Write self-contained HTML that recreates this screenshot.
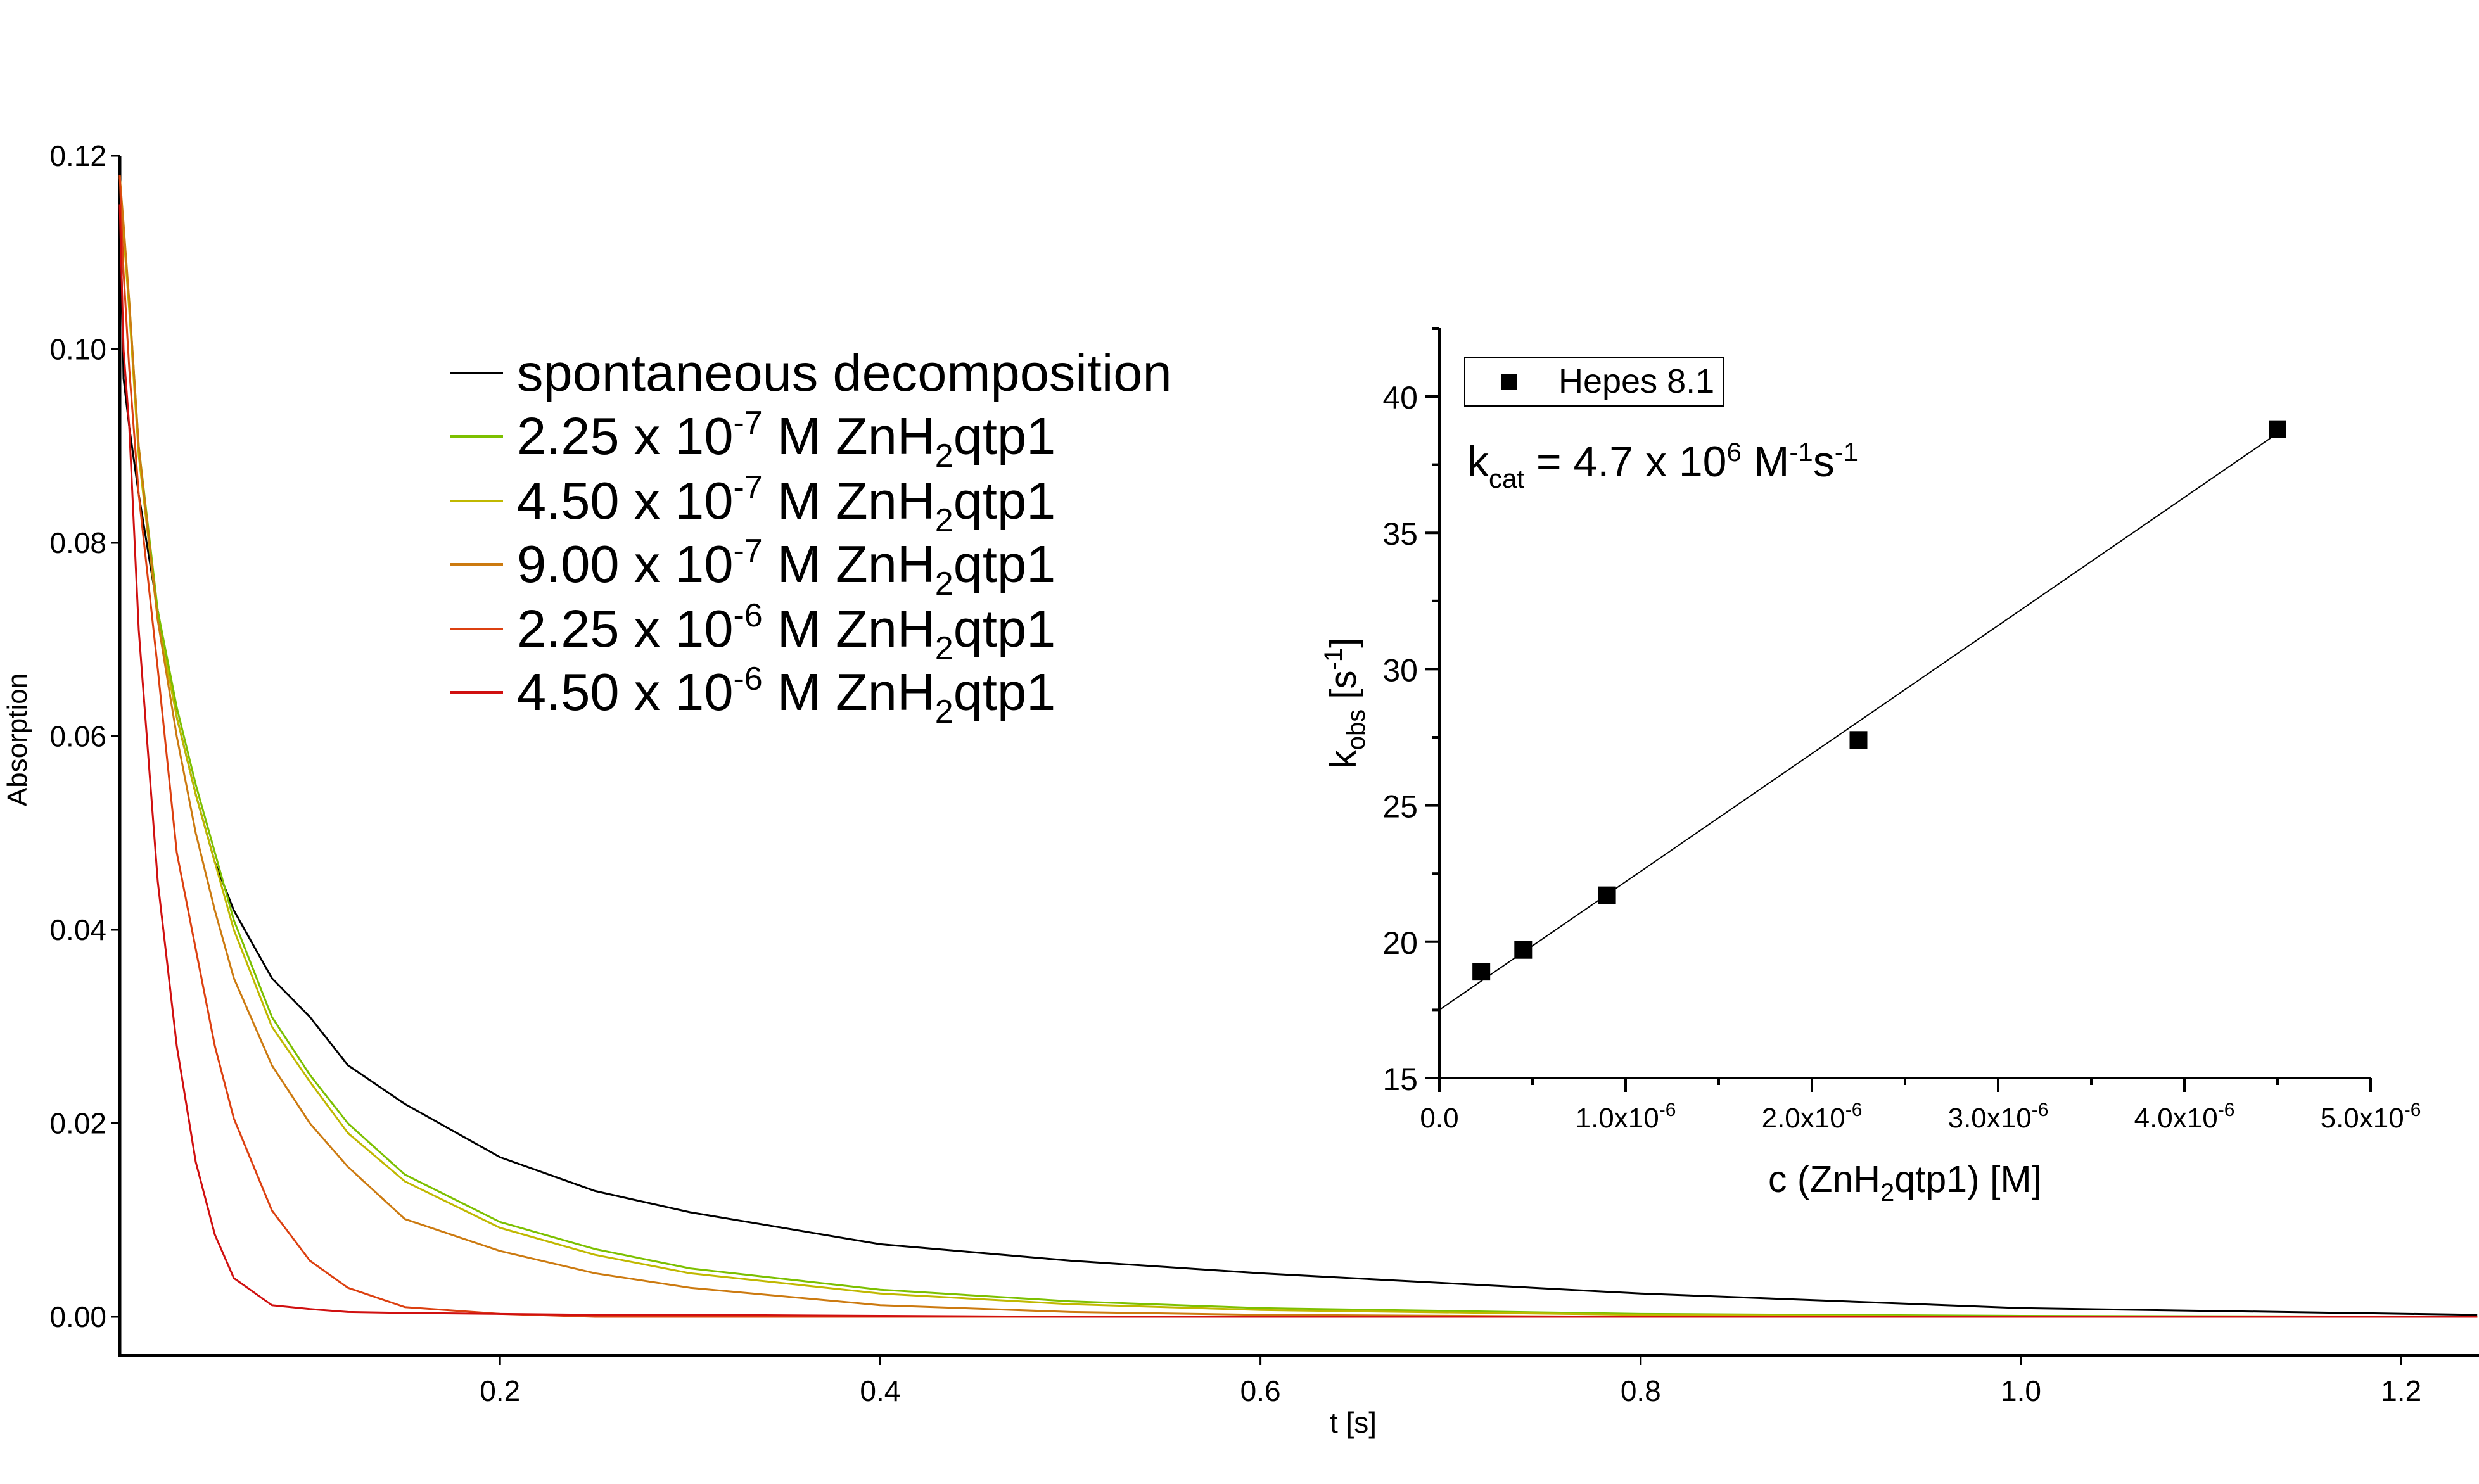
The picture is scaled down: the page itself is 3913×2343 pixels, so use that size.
<!DOCTYPE html>
<html><head><meta charset="utf-8"><style>
html,body{margin:0;padding:0;background:#fff}
svg{display:block;font-family:"Liberation Sans",sans-serif}
</style></head><body>
<svg id="chart" width="3913" height="2343" viewBox="0 0 3913 2343" xmlns="http://www.w3.org/2000/svg">
<rect width="3913" height="2343" fill="#fff"/>
<g id="main"></g><g id="inset"></g>
</svg>
<script>
// ---- main chart data ----
const times = [0,0.002,0.005,0.01,0.02,0.03,0.04,0.05,0.06,0.08,0.1,0.12,0.15,0.2,0.25,0.3,0.4,0.5,0.6,0.8,1.0,1.24];
const seriesNames = ["spontaneous decomposition","2.25e-7","4.50e-7","9.00e-7","2.25e-6","4.50e-6"];
const seriesColors = ["#000000","#7cc000","#c0b800","#cc7a10","#dc4010","#d01010"];
const sBlack = [0.118,0.097,0.092,0.085,0.073,0.062,0.054,0.047,0.042,0.035,0.031,0.026,0.022,0.0165,0.013,0.0108,0.0075,0.0058,0.0045,0.0024,0.0009,0.0002];
const sGreen = [0.118,0.112,0.105,0.090,0.073,0.063,0.055,0.048,0.041,0.031,0.025,0.020,0.0147,0.0098,0.007,0.005,0.0028,0.0016,0.0009,0.0003,0.0001,0];
const sYellow = [0.118,0.112,0.104,0.089,0.072,0.062,0.054,0.047,0.040,0.030,0.0243,0.019,0.014,0.0092,0.0064,0.0045,0.0024,0.0013,0.0007,0.0002,0,0];
const sOrange = [0.118,0.113,0.105,0.090,0.072,0.060,0.050,0.042,0.035,0.026,0.020,0.0155,0.0101,0.0068,0.0045,0.0030,0.0012,0.0005,0.0002,0,0,0];
const sRedOrange = [0.118,0.108,0.098,0.085,0.067,0.048,0.038,0.028,0.0205,0.011,0.0058,0.003,0.001,0.0003,0,0,0,0,0,0,0,0];
const sRed = [0.115,0.100,0.092,0.071,0.045,0.028,0.016,0.0085,0.004,0.0012,0.0008,0.0005,0.0004,0.0003,0.0002,0.0002,0.0001,0,0,0,0,0];
const xTicks = [0.2,0.4,0.6,0.8,1.0,1.2];
const xTickLabels = ["0.2","0.4","0.6","0.8","1.0","1.2"];
const yTicks = [0,0.02,0.04,0.06,0.08,0.10,0.12];
const yTickLabels = ["0.00","0.02","0.04","0.06","0.08","0.10","0.12"];
// ---- inset data ----
const conc = [2.25e-7,4.5e-7,9.0e-7,2.25e-6,4.5e-6];
const kobs = [18.9,19.7,21.7,27.4,38.8];
const fitIntercept = 17.5;
const fitSlope = 4.7e6;
const fitRange = [0,4.5e-6];
const inXTicks = [0,1e-6,2e-6,3e-6,4e-6,5e-6];
const inXTickLabels = ["0.0","1.0x10","2.0x10","3.0x10","4.0x10","5.0x10"];
const inYTicks = [15,20,25,30,35,40];
const inYTickLabels = ["15","20","25","30","35","40"];

const NS="http://www.w3.org/2000/svg";
function mk(parent,tag,attrs,text){const e=document.createElementNS(NS,tag);for(const k in attrs)e.setAttribute(k,attrs[k]);if(text!==undefined)e.textContent=text;parent.appendChild(e);return e;}

// main axes
const mx = t => 189 + t*3001;
const my = a => 2079 - a*15275;
const M = document.getElementById('main');
let ax = mk(M,'line',{x1:189,y1:247,x2:189,y2:2142,stroke:'#000','stroke-width':5});
 
ax = mk(M,'line',{x1:187,y1:2140,x2:3913,y2:2140,stroke:'#000','stroke-width':5});
 
yTicks.forEach((v,i)=>{
  const tk=mk(M,'line',{x1:175,y1:my(v),x2:189,y2:my(v),stroke:'#000','stroke-width':3});
   
  const t=mk(M,'text',{x:168,y:my(v)+16,'text-anchor':'end','font-size':46},yTickLabels[i]);
   
});
xTicks.forEach((v,i)=>{
  const tk=mk(M,'line',{x1:mx(v),y1:2140,x2:mx(v),y2:2155,stroke:'#000','stroke-width':3});
   
  const t=mk(M,'text',{x:mx(v),y:2212,'text-anchor':'middle','font-size':46},xTickLabels[i]);
   
});
let tt=mk(M,'text',{x:2136,y:2262,'text-anchor':'middle','font-size':46},'t [s]');
 
tt=mk(M,'text',{x:0,y:0,'text-anchor':'middle','font-size':44,transform:'translate(42,1168) rotate(-90)'},'Absorption');
 

const allSeries=[sBlack,sGreen,sYellow,sOrange,sRedOrange,sRed];
const seriesKeys=['spontaneous','c-2-25e-7','c-4-50e-7','c-9-00e-7','c-2-25e-6','c-4-50e-6'];
allSeries.forEach((s,i)=>{
  const pts=times.map((t,j)=>mx(t).toFixed(1)+','+my(s[j]).toFixed(1)).join(' ');
  const p=mk(M,'polyline',{points:pts,fill:'none',stroke:seriesColors[i],'stroke-width':3,'stroke-linejoin':'round'});
   
});

// legend
const legTexts=[
 ['spontaneous decomposition',null,null],
 ['2.25 x 10','-7',' M ZnH'],
 ['4.50 x 10','-7',' M ZnH'],
 ['9.00 x 10','-7',' M ZnH'],
 ['2.25 x 10','-6',' M ZnH'],
 ['4.50 x 10','-6',' M ZnH']];
const legY=[589,689,791,891,993,1093];
legTexts.forEach((lt,i)=>{
  const g=mk(M,'g',{});
   
  mk(g,'line',{x1:711,y1:legY[i],x2:794,y2:legY[i],stroke:seriesColors[i],'stroke-width':4});
  const t=mk(g,'text',{x:816,y:legY[i]+28,'font-size':83});
  if(lt[1]===null){t.textContent=lt[0];}
  else{
    mk(t,'tspan',{},lt[0]);
    mk(t,'tspan',{dy:-32,'font-size':52},lt[1]);
    mk(t,'tspan',{dy:32},lt[2]);
    mk(t,'tspan',{dy:20,'font-size':52},'2');
    mk(t,'tspan',{dy:-20},'qtp1');
  }
});

// inset
const ix = c => 2272 + c*294e6;
const iy = k => 1702 - (k-15)*43.04;
const I=document.getElementById('inset');
ax=mk(I,'line',{x1:2272,y1:518,x2:2272,y2:1722,stroke:'#000','stroke-width':4});
 
mk(I,'line',{x1:2260,y1:519,x2:2272,y2:519,stroke:'#000','stroke-width':4});
ax=mk(I,'line',{x1:2250,y1:1702,x2:ix(5e-6),y2:1702,stroke:'#000','stroke-width':4});
 
inYTicks.forEach((v,i)=>{
  const tk=mk(I,'line',{x1:2250,y1:iy(v),x2:2272,y2:iy(v),stroke:'#000','stroke-width':4});
   
  if(v<40) mk(I,'line',{x1:2261,y1:iy(v+2.5),x2:2272,y2:iy(v+2.5),stroke:'#000','stroke-width':4});
  const t=mk(I,'text',{x:2238,y:iy(v)+19,'text-anchor':'end','font-size':50},inYTickLabels[i]);
   
});
inXTicks.forEach((v,i)=>{
  const tk=mk(I,'line',{x1:ix(v),y1:1702,x2:ix(v),y2:1724,stroke:'#000','stroke-width':4});
   
  if(i<5) mk(I,'line',{x1:ix(v+0.5e-6),y1:1702,x2:ix(v+0.5e-6),y2:1713,stroke:'#000','stroke-width':4});
  const t=mk(I,'text',{x:ix(v),y:1780,'text-anchor':'middle','font-size':44});
   
  mk(t,'tspan',{},inXTickLabels[i]);
  if(i>0) mk(t,'tspan',{dy:-18,'font-size':30},'-6');
});
const fit=mk(I,'line',{x1:ix(fitRange[0]),y1:iy(fitIntercept+fitSlope*fitRange[0]),x2:ix(fitRange[1]),y2:iy(fitIntercept+fitSlope*fitRange[1]),stroke:'#000','stroke-width':2});
 
conc.forEach((c,i)=>{
  const r=mk(I,'rect',{x:ix(c)-14,y:iy(kobs[i])-14,width:28,height:28,fill:'#000'});
   
});
const lg=mk(I,'g',{});
 
mk(lg,'rect',{x:2312,y:564,width:408,height:77,fill:'none',stroke:'#000','stroke-width':2});
mk(lg,'rect',{x:2370,y:590,width:25,height:25,fill:'#000'});
mk(lg,'text',{x:2460,y:620,'font-size':54},'Hepes 8.1');
const kc=mk(I,'text',{x:2316,y:752,'font-size':68});
 
mk(kc,'tspan',{},'k');
mk(kc,'tspan',{dy:18,'font-size':42},'cat');
mk(kc,'tspan',{dy:-18},' = 4.7 x 10');
mk(kc,'tspan',{dy:-24,'font-size':42},'6');
mk(kc,'tspan',{dy:24},' M');
mk(kc,'tspan',{dy:-24,'font-size':42},'-1');
mk(kc,'tspan',{dy:24},'s');
mk(kc,'tspan',{dy:-24,'font-size':42},'-1');
const xt=mk(I,'text',{x:3007,y:1882,'text-anchor':'middle','font-size':59});
 
mk(xt,'tspan',{},'c (ZnH');
mk(xt,'tspan',{dy:14,'font-size':40},'2');
mk(xt,'tspan',{dy:-14},'qtp1) [M]');
const yt=mk(I,'text',{x:0,y:0,'text-anchor':'middle','font-size':58,transform:'translate(2140,1110) rotate(-90)'});
 
mk(yt,'tspan',{},'k');
mk(yt,'tspan',{dy:14,'font-size':40},'obs');
mk(yt,'tspan',{dy:-14},' [s');
mk(yt,'tspan',{dy:-22,'font-size':40},'-1');
mk(yt,'tspan',{dy:22},']');
</script>
</body></html>
